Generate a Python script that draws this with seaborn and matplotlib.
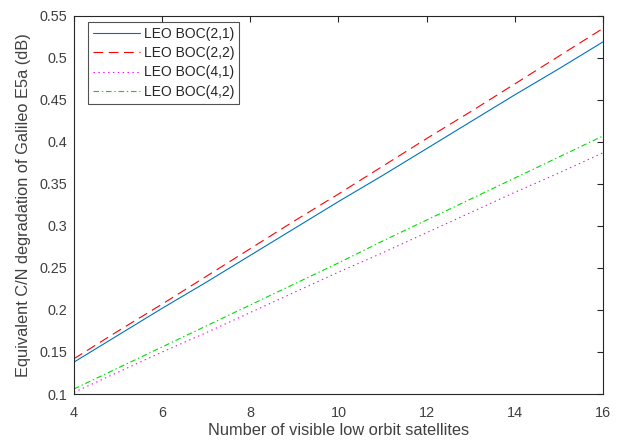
import numpy as np
import pandas as pd
import matplotlib
matplotlib.use("Agg")
import matplotlib.pyplot as plt
import seaborn as sns

# number of visible LEO satellites
sats = [4, 5, 6, 7, 8, 9, 10, 11, 12, 13, 14, 15, 16]
# equivalent C/N degradation (dB)
boc21 = [0.138, 0.170, 0.202, 0.233, 0.265, 0.297, 0.329, 0.360, 0.392, 0.424, 0.456, 0.487, 0.519]
boc22 = [0.142, 0.175, 0.207, 0.240, 0.273, 0.306, 0.338, 0.371, 0.404, 0.436, 0.469, 0.502, 0.535]
boc41 = [0.102, 0.126, 0.150, 0.173, 0.197, 0.221, 0.245, 0.268, 0.292, 0.316, 0.340, 0.363, 0.387]
boc42 = [0.106, 0.131, 0.156, 0.181, 0.206, 0.231, 0.256, 0.282, 0.307, 0.332, 0.357, 0.382, 0.407]
labels = ["LEO BOC(2,1)", "LEO BOC(2,2)", "LEO BOC(4,1)", "LEO BOC(4,2)"]
xticks = [4, 6, 8, 10, 12, 14, 16]
yticks = [0.1, 0.15, 0.2, 0.25, 0.3, 0.35, 0.4, 0.45, 0.5, 0.55]

sns.set_theme(style="white")
plt.rcParams['font.family'] = ['Liberation Sans', 'DejaVu Sans']
plt.rcParams['lines.scale_dashes'] = False

fig = plt.figure(figsize=(6.24, 4.43), dpi=100)
ax = fig.add_axes([0.1186, 0.1106, 0.8474, 0.8534])

series = [boc21, boc22, boc41, boc42]
colors = ["#0072BD", "#FF0000", "#FF00FF", "#00DD00"]
dashes = [None, (7, 4), (1, 2.5), (4, 2, 1, 2)]
for vals, lab, c, d in zip(series, labels, colors, dashes):
    sns.lineplot(x=sats, y=vals, ax=ax, color=c, linewidth=0.8, label=lab)
    if d is not None:
        ax.lines[-1].set_dashes(d)

ax.set_xlim(4, 16)
ax.set_ylim(0.1, 0.55)
ax.set_xticks(xticks)
ax.set_yticks(yticks)
ax.set_yticklabels([f"{v:g}" for v in yticks])
ax.tick_params(direction="in", top=True, right=True, length=4, width=0.8,
               labelsize=10.4, colors="#262626", labelcolor="#404040")
ax.tick_params(axis="x", pad=8.5)
ax.tick_params(axis="y", pad=5)
for s in ax.spines.values():
    s.set_color("#262626")
    s.set_linewidth(0.8)
ax.set_xlabel("Number of visible low orbit satellites", fontsize=11.8,
              color="#404040", labelpad=2)
ax.set_ylabel("Equivalent C/N degradation of Galileo E5a (dB)", fontsize=11.8,
              color="#404040", labelpad=6)

leg = ax.legend(loc="upper left", fontsize=10, frameon=True, fancybox=False,
                edgecolor="#262626", borderpad=0.35, labelspacing=0.38,
                handlelength=3.4, handletextpad=0.25, borderaxespad=0,
                bbox_to_anchor=(0.0265, 0.984))
leg.get_frame().set_linewidth(0.8)

fig.savefig("out.png", dpi=100)
